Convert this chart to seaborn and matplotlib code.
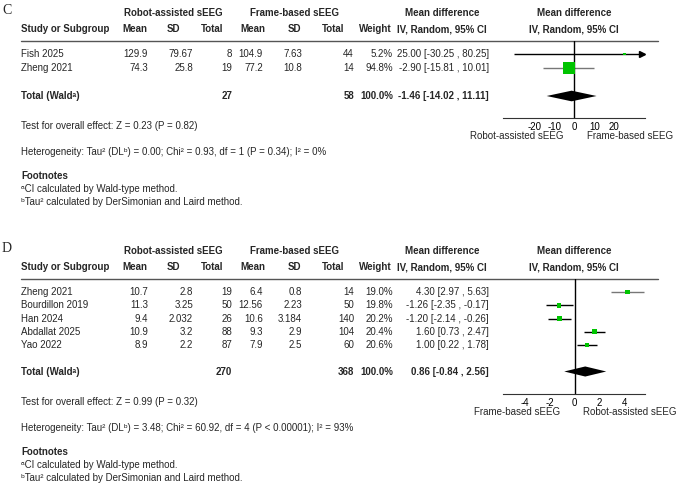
import numpy as np
import pandas as pd
import matplotlib.pyplot as plt
import seaborn as sns

sns.set_style("white")
plt.rcParams['font.family'] = ['Liberation Sans', 'DejaVu Sans']

# ---- Panel C data ----
c_study = ["Fish 2025", "Zheng 2021"]
c_r_mean = ["129.9", "74.3"]
c_r_sd = ["79.67", "25.8"]
c_r_n = ["8", "19"]
c_f_mean = ["104.9", "77.2"]
c_f_sd = ["7.63", "10.8"]
c_f_n = ["44", "14"]
c_weight = [5.2, 94.8]
c_md = [25.00, -2.90]
c_lo = [-30.25, -15.81]
c_hi = [80.25, 10.01]
c_total = ["27", "58", "100.0%", "-1.46 [-14.02 , 11.11]"]
c_pooled = (-1.46, -14.02, 11.11)
c_ticks = [-20, -10, 0, 10, 20]
c_test = "Test for overall effect: Z = 0.23 (P = 0.82)"
c_het = "Heterogeneity: Tau\u00b2 (DL\u1d47) = 0.00; Chi\u00b2 = 0.93, df = 1 (P = 0.34); I\u00b2 = 0%"
c_favours = ["Robot-assisted sEEG", "Frame-based sEEG"]

# ---- Panel D data ----
d_study = ["Zheng 2021", "Bourdillon 2019", "Han 2024", "Abdallat 2025", "Yao 2022"]
d_r_mean = ["10.7", "11.3", "9.4", "10.9", "8.9"]
d_r_sd = ["2.8", "3.25", "2.032", "3.2", "2.2"]
d_r_n = ["19", "50", "26", "88", "87"]
d_f_mean = ["6.4", "12.56", "10.6", "9.3", "7.9"]
d_f_sd = ["0.8", "2.23", "3.184", "2.9", "2.5"]
d_f_n = ["14", "50", "140", "104", "60"]
d_weight = [19.0, 19.8, 20.2, 20.4, 20.6]
d_md = [4.30, -1.26, -1.20, 1.60, 1.00]
d_lo = [2.97, -2.35, -2.14, 0.73, 0.22]
d_hi = [5.63, -0.17, -0.26, 2.47, 1.78]
d_total = ["270", "368", "100.0%", "0.86 [-0.84 , 2.56]"]
d_pooled = (0.86, -0.84, 2.56)
d_ticks = [-4, -2, 0, 2, 4]
d_test = "Test for overall effect: Z = 0.99 (P = 0.32)"
d_het = "Heterogeneity: Tau\u00b2 (DL\u1d47) = 3.48; Chi\u00b2 = 60.92, df = 4 (P < 0.00001); I\u00b2 = 93%"
d_favours = ["Frame-based sEEG", "Robot-assisted sEEG"]

W, H = 677, 486
GREEN = "#00c400"
FS = 7

fig = plt.figure(figsize=(W / 100, H / 100), dpi=100)
bg = fig.add_axes([0, 0, 1, 1])
bg.set_xlim(0, W)
bg.set_ylim(H, 0)
bg.axis("off")


def txt(x, y, s, ha="left", bold=False, size=FS, **kw):
    bg.text(x, y, s, ha=ha, va="center", fontsize=size,
            fontweight="bold" if bold else "normal", **kw)


def ci_fmt(m, l, h):
    return f"{m:.2f} [{l:.2f} , {h:.2f}]"


def panel(top, label, study, rm, rsd, rn, fm, fsd, fn, wt, md, lo, hi, total,
          pooled, ticks, xlim, test, het, favours, row0, step, sq_k, ci_cols):
    # headers
    txt(2, top - 3, label, size=10, family="Liberation Serif")
    h1, h2 = top, top + 16
    txt(173, h1, "Robot-assisted sEEG", ha="center", bold=True)
    txt(295, h1, "Frame-based sEEG", ha="center", bold=True)
    txt(442, h1, "Mean difference", ha="center", bold=True)
    txt(574, h1, "Mean difference", ha="center", bold=True)
    txt(21, h2, "Study or Subgroup", bold=True)
    for x, s in [(135, "Mean"), (173, "SD"), (212, "Total"), (253, "Mean"),
                 (294, "SD"), (333, "Total"), (375, "Weight"),
                 (442, "IV, Random, 95% CI"), (574, "IV, Random, 95% CI")]:
        txt(x, h2, s, ha="center", bold=True)
    line_y = top + 28
    bg.plot([21, 658], [line_y, line_y], color="#555555", lw=1)

    # table rows
    n = len(study)
    ys = [row0 + i * step for i in range(n)]
    for i in range(n):
        y = ys[i]
        txt(21, y, study[i])
        for x, s in [(148, rm[i]), (193, rsd[i]), (232, rn[i]), (263, fm[i]),
                     (302, fsd[i]), (354, fn[i]), (393, f"{wt[i]:.1f}%"),
                     (489, ci_fmt(md[i], lo[i], hi[i]))]:
            txt(x, y, s, ha="right")
    ty = row0 + (n + 1) * step
    txt(21, ty, "Total (Wald\u1d43)", bold=True)
    for x, s in zip([232, 354, 393, 489], total):
        txt(x, ty, s, ha="right", bold=True)

    # forest plot
    axis_y = ty + 22
    x0, x1 = 503, 645
    ax = fig.add_axes([x0 / W, 1 - axis_y / H, (x1 - x0) / W, (axis_y - line_y) / H])
    ax.set_xlim(*xlim)
    ax.set_ylim((axis_y - row0) / step, (line_y - row0) / step)
    idx = np.arange(n)
    for i in range(n):
        l, h = max(lo[i], xlim[0]), min(hi[i], xlim[1])
        ax.plot([l, h], [idx[i], idx[i]], color=ci_cols[i], lw=1, solid_capstyle="butt")
        if hi[i] > xlim[1]:
            ax.plot([xlim[1] - 0.02 * (xlim[1] - xlim[0])], [idx[i]], marker=">",
                    color="black", ms=4, clip_on=False)
    df = pd.DataFrame({"md": md, "row": idx, "w": wt})
    sizes = (sq_k * np.sqrt(df["w"]) * 0.72) ** 2
    sns.scatterplot(data=df, x="md", y="row", marker="s", s=sizes, color=GREEN,
                    linewidth=0, ax=ax, zorder=3)
    pm, pl, ph = pooled
    r = n + 1
    ax.fill([pl, pm, ph, pm], [r, r - 0.38, r, r + 0.38], color="black", lw=0, zorder=3)
    ax.axvline(0, color="black", lw=1)
    for s in ["top", "right", "left"]:
        ax.spines[s].set_visible(False)
    ax.spines["bottom"].set_color("#333333")
    ax.set_xticks(ticks)
    ax.set_xticklabels([str(t) for t in ticks])
    ax.set_yticks([])
    ax.tick_params(axis="x", direction="inout", length=6, width=1, labelsize=FS,
                   pad=0, colors="#333333", labelcolor="black")
    ax.set_xlabel("")
    ax.set_ylabel("")
    ax.patch.set_alpha(0)
    txt(517, axis_y + 18, favours[0], ha="center")
    txt(630, axis_y + 18, favours[1], ha="center")

    # footer
    fy = ty + 30
    txt(21, fy, test)
    txt(21, fy + 26, het)
    txt(21, fy + 50, "Footnotes", bold=True)
    txt(21, fy + 63, "\u1d43CI calculated by Wald-type method.")
    txt(21, fy + 76, "\u1d47Tau\u00b2 calculated by DerSimonian and Laird method.")


panel(13, "C", c_study, c_r_mean, c_r_sd, c_r_n, c_f_mean, c_f_sd, c_f_n,
      c_weight, c_md, c_lo, c_hi, c_total, c_pooled, c_ticks, (-36, 35.5),
      c_test, c_het, c_favours, row0=54, step=14, sq_k=1.28,
      ci_cols=["black", "#777777"])

panel(251, "D", d_study, d_r_mean, d_r_sd, d_r_n, d_f_mean, d_f_sd, d_f_n,
      d_weight, d_md, d_lo, d_hi, d_total, d_pooled, d_ticks, (-5.8, 5.7),
      d_test, d_het, d_favours, row0=292, step=13.25, sq_k=1.05,
      ci_cols=["#777777", "black", "black", "black", "black"])

fig.savefig("out.png", dpi=100)
